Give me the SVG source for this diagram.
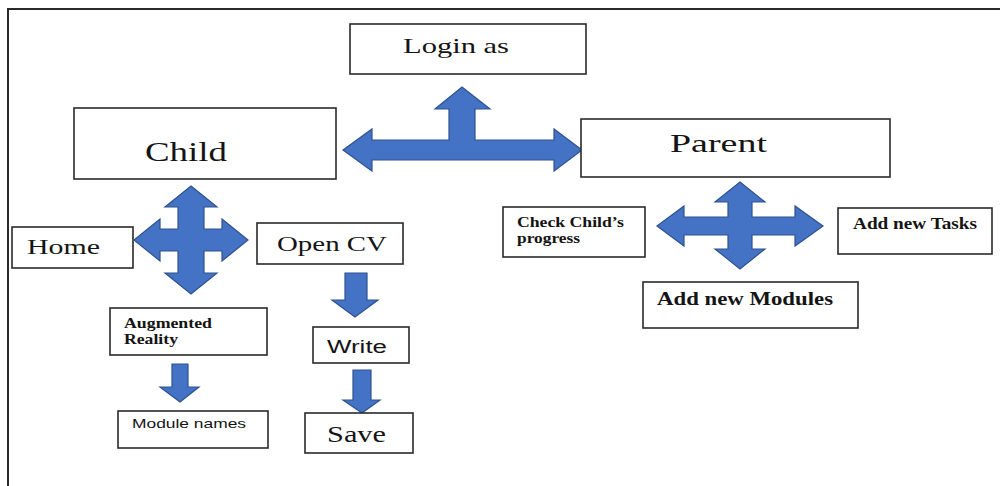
<svg xmlns="http://www.w3.org/2000/svg" width="1000" height="486" viewBox="0 0 1000 486">
  <style>
    .box { fill: #ffffff; stroke: #2a2a2a; stroke-width: 1.6; }
    .arrow { fill: #4472c4; stroke: #2f528f; stroke-width: 1.2; stroke-linejoin: miter; }
    .serif { font-family: "Liberation Serif", "Times New Roman", serif; fill: #141414; }
    .sans { font-family: "Liberation Sans", Arial, sans-serif; fill: #141414; }
    .b { font-weight: bold; }
    .frame { stroke: #2a2a2a; stroke-width: 2; fill: none; }
  </style>

  <rect x="0" y="0" width="1000" height="486" fill="#ffffff"/>
  <!-- page frame -->
  <path class="frame" d="M8,486 V9 H1000"/>

  <!-- block arrows between boxes -->
  <g id="connectors">
    <!-- left-right-up arrow: Child / Parent / Login as -->
    <polygon class="arrow" points="343,150 372,129 372,140 449,140 449,109 435,109 462,87 490,109 475,109 475,140 554,140 554,129 582,150 554,171 554,160 372,160 372,171"/>
    <!-- quad arrow under Child -->
    <polygon class="arrow" points="191,186 217,207 204,207 204,229 222,229 222,219 248,240 222,261 222,251 204,251 204,273 217,273 191,294 165,273 178,273 178,251 160,251 160,261 134,240 160,219 160,229 178,229 178,207 165,207"/>
    <!-- quad arrow under Parent -->
    <polygon class="arrow" points="740,182 765,202 752,202 752,217 795,217 795,206 823,226 795,246 795,235 752,235 752,249 765,249 740,269 715,249 728,249 728,235 684,235 684,246 657,226 684,206 684,217 728,217 728,202 715,202"/>
    <!-- Open CV to Write -->
    <polygon class="arrow" points="345,273 367,273 367,300 378,300 355,317 332,300 345,300"/>
    <!-- Write to Save -->
    <polygon class="arrow" points="353,370 371,370 371,400 380,400 362,413 343,400 353,400"/>
    <!-- Augmented Reality to Module names -->
    <polygon class="arrow" points="172,364 188,364 188,387 199,387 180,402 160,387 172,387"/>
  </g>

  <g id="login">
    <rect class="box" x="350" y="24" width="236" height="50"/>
    <text class="serif" x="403" y="53" font-size="21" textLength="106" lengthAdjust="spacingAndGlyphs">Login as</text>
  </g>

  <g id="child">
    <rect class="box" x="74" y="108" width="262" height="71"/>
    <text class="serif" x="145" y="161" font-size="28" textLength="82" lengthAdjust="spacingAndGlyphs">Child</text>
  </g>

  <g id="parent">
    <rect class="box" x="581" y="119" width="309" height="58"/>
    <text class="serif" x="670" y="152" font-size="26" textLength="97" lengthAdjust="spacingAndGlyphs">Parent</text>
  </g>

  <g id="home">
    <rect class="box" x="12" y="227" width="121" height="41"/>
    <text class="serif" x="27" y="254" font-size="21" textLength="73" lengthAdjust="spacingAndGlyphs">Home</text>
  </g>

  <g id="open-cv">
    <rect class="box" x="257" y="223" width="146" height="41"/>
    <text class="serif" x="277" y="251" font-size="21" textLength="110" lengthAdjust="spacingAndGlyphs">Open CV</text>
  </g>

  <g id="write">
    <rect class="box" x="313" y="327" width="96" height="36"/>
    <text class="sans" x="327" y="353" font-size="18" textLength="60" lengthAdjust="spacingAndGlyphs">Write</text>
  </g>

  <g id="save">
    <rect class="box" x="305" y="413" width="108" height="40"/>
    <text class="serif" x="327" y="442" font-size="23" textLength="59" lengthAdjust="spacingAndGlyphs">Save</text>
  </g>

  <g id="augmented-reality">
    <rect class="box" x="110" y="308" width="157" height="47"/>
    <text class="serif b" x="124" y="328" font-size="14" textLength="88" lengthAdjust="spacingAndGlyphs">Augmented</text>
    <text class="serif b" x="124" y="344" font-size="14" textLength="54" lengthAdjust="spacingAndGlyphs">Reality</text>
  </g>

  <g id="module-names">
    <rect class="box" x="118" y="411" width="150" height="37"/>
    <text class="sans" x="132" y="428" font-size="13" textLength="114" lengthAdjust="spacingAndGlyphs">Module names</text>
  </g>

  <g id="check-progress">
    <rect class="box" x="503" y="207" width="142" height="50"/>
    <text class="serif b" x="517" y="227" font-size="14" textLength="107" lengthAdjust="spacingAndGlyphs">Check Child’s</text>
    <text class="serif b" x="517" y="243" font-size="14" textLength="63" lengthAdjust="spacingAndGlyphs">progress</text>
  </g>

  <g id="add-tasks">
    <rect class="box" x="838" y="208" width="154" height="46"/>
    <text class="serif b" x="853" y="229" font-size="16" textLength="124" lengthAdjust="spacingAndGlyphs">Add new Tasks</text>
  </g>

  <g id="add-modules">
    <rect class="box" x="643" y="282" width="215" height="46"/>
    <text class="serif b" x="657" y="305" font-size="19" textLength="176" lengthAdjust="spacingAndGlyphs">Add new Modules</text>
  </g>
</svg>
